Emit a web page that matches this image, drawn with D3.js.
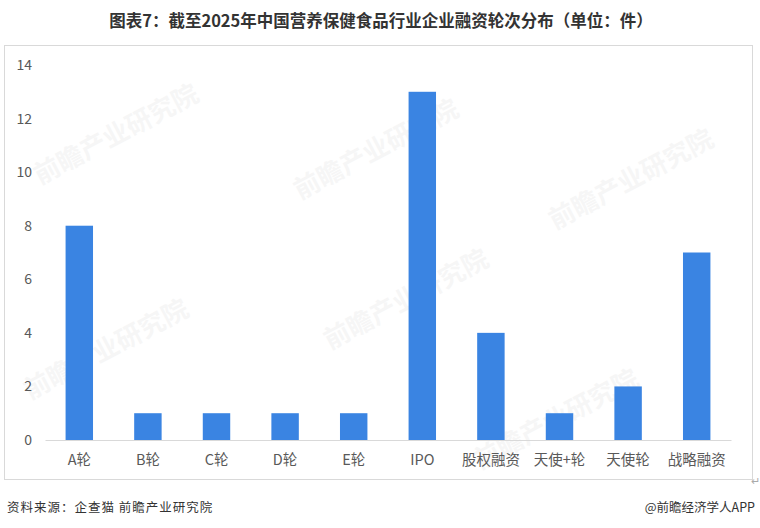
<!DOCTYPE html>
<html><head><meta charset="utf-8">
<script src="https://cdn.jsdelivr.net/npm/d3@7"></script>
<style>html,body{margin:0;padding:0;background:#fff;}</style>
</head><body>
<svg id="chart" width="760" height="528"></svg>
<script>
const categories = ["A轮","B轮","C轮","D轮","E轮","IPO","股权融资","天使+轮","天使轮","战略融资"];
const values = [8,1,1,1,1,13,4,1,2,7];
const yTicks = [0,2,4,6,8,10,12,14];
const titleText = "图表7：截至2025年中国营养保健食品行业企业融资轮次分布（单位：件）";
const sourceText = "资料来源：企查猫 前瞻产业研究院";
const brandText = "@前瞻经济学人APP";

const svg = d3.select("#chart");
const font = "'Noto Sans CJK SC','Noto Sans',sans-serif";

// faint watermarks
const wm = [[40,185],[300,200],[555,230],[330,350],[30,400],[480,470]];
wm.forEach(([x,y])=>{
  svg.append("text").attr("transform",`translate(${x},${y}) rotate(-28)`)
    .attr("font-family",font).attr("font-size",26).attr("font-weight",700)
    .attr("fill","#000").attr("opacity",0.03).text("前瞻产业研究院");
});

svg.append("text").attr("x",381).attr("y",27).attr("text-anchor","middle")
  .attr("font-family",font).attr("font-weight",700).attr("font-size",16.5)
  .attr("fill","#333").text(titleText);

svg.append("rect").attr("x",4.5).attr("y",45.5).attr("width",748).attr("height",434)
  .attr("fill","none").attr("stroke","#d9d9d9").attr("stroke-width",1);

const x = d3.scaleBand().domain(categories).range([45,731]).paddingInner(0.6).paddingOuter(0.3);
const y = d3.scaleLinear().domain([0,14]).range([440,65]);

const yAxis = d3.axisLeft(y).tickValues(yTicks).tickSize(0).tickPadding(0);
const gy = svg.append("g").attr("transform","translate(32,0)").call(yAxis);
gy.select(".domain").remove();
gy.selectAll("text").attr("font-family",font).attr("font-size",14).attr("fill","#595959");

svg.append("g").selectAll("rect").data(values).join("rect")
  .attr("x",(d,i)=>x(categories[i])).attr("width",x.bandwidth())
  .attr("y",d=>y(d)).attr("height",d=>y(0)-y(d)).attr("fill","#3a84e2");

const xAxis = d3.axisBottom(x).tickSize(0).tickPadding(15);
const gx = svg.append("g").attr("transform","translate(0,440)").call(xAxis);
gx.select(".domain").attr("stroke","#d9d9d9");
gx.selectAll("text").attr("font-family",font).attr("font-size",14.5).attr("fill","#595959");

svg.append("text").attr("x",751).attr("y",485).attr("font-family",font).attr("font-size",11)
  .attr("fill","#aaa").text("↵");

svg.append("text").attr("x",7).attr("y",512).attr("font-family",font).attr("font-size",12.5)
  .attr("letter-spacing",1).attr("fill","#333").text(sourceText);
svg.append("text").attr("x",755).attr("y",512).attr("text-anchor","end").attr("font-family",font).attr("font-size",12.5)
  .attr("fill","#333").text(brandText);
</script>
</body></html>
